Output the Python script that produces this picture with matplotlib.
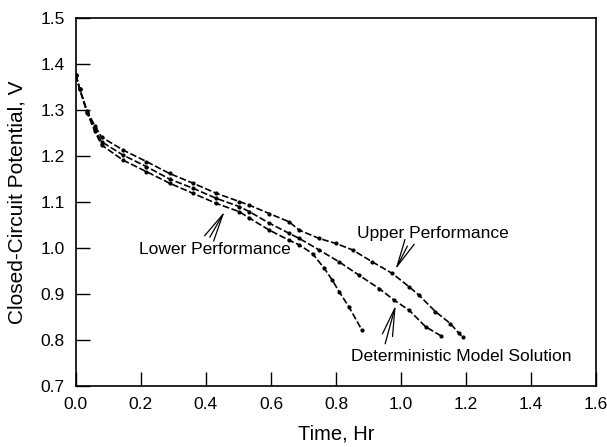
import matplotlib
matplotlib.use("Agg")
import matplotlib.pyplot as plt

plt.rcParams['font.family'] = ['Liberation Sans', 'DejaVu Sans']

# data (time in hr, potential in V)
time_upper = [0.0, 0.012, 0.035, 0.058, 0.079, 0.145, 0.217, 0.288, 0.360, 0.432, 0.503,
              0.534, 0.595, 0.656, 0.687, 0.748, 0.800, 0.851, 0.912, 0.973, 1.025,
              1.055, 1.106, 1.152, 1.178, 1.190]
volt_upper = [1.376, 1.345, 1.297, 1.266, 1.241, 1.213, 1.188, 1.162, 1.141, 1.119, 1.101,
              1.093, 1.075, 1.057, 1.039, 1.021, 1.010, 0.996, 0.970, 0.945, 0.916,
              0.898, 0.862, 0.836, 0.815, 0.806]

time_model = [0.0, 0.012, 0.035, 0.058, 0.079, 0.145, 0.217, 0.288, 0.360, 0.432, 0.503,
              0.534, 0.595, 0.656, 0.687, 0.748, 0.810, 0.871, 0.933, 0.979, 1.025,
              1.076, 1.124]
volt_model = [1.376, 1.345, 1.295, 1.260, 1.231, 1.202, 1.177, 1.150, 1.130, 1.108, 1.090,
              1.079, 1.054, 1.032, 1.021, 0.996, 0.970, 0.941, 0.912, 0.887, 0.865,
              0.829, 0.809]

time_lower = [0.0, 0.012, 0.035, 0.058, 0.079, 0.145, 0.217, 0.288, 0.360, 0.432, 0.503,
              0.534, 0.595, 0.656, 0.687, 0.728, 0.764, 0.789, 0.810, 0.840, 0.879]
volt_lower = [1.376, 1.345, 1.293, 1.254, 1.224, 1.191, 1.166, 1.141, 1.119, 1.097, 1.079,
              1.065, 1.039, 1.017, 1.007, 0.988, 0.956, 0.930, 0.905, 0.872, 0.823]

x_ticks = [0.0, 0.2, 0.4, 0.6, 0.8, 1.0, 1.2, 1.4, 1.6]
y_ticks = [0.7, 0.8, 0.9, 1.0, 1.1, 1.2, 1.3, 1.4, 1.5]

fig = plt.figure(figsize=(6.07, 4.47), dpi=100)
ax = fig.add_axes([0.125, 0.136, 0.857, 0.824])

# dashed curves with small dots at the data points
for t, v in [(time_upper, volt_upper), (time_model, volt_model), (time_lower, volt_lower)]:
    ax.plot(t, v, color='black', lw=1.2, linestyle=(0, (4, 1.5)),
            marker='o', markersize=2)

ax.set_xlim(0.0, 1.6)
ax.set_ylim(0.7, 1.5)
ax.set_xticks(x_ticks)
ax.set_yticks(y_ticks)
ax.set_xticklabels([f"{v:.1f}" for v in x_ticks])
ax.set_yticklabels([f"{v:.1f}" for v in y_ticks])
ax.tick_params(direction='in', length=10, width=1, labelsize=12.5, pad=8,
               top=False, right=False)
for s in ax.spines.values():
    s.set_linewidth(1.2)

ax.set_xlabel('Time, Hr', fontsize=14.5, labelpad=9)
ax.set_ylabel('Closed-Circuit Potential, V', fontsize=15, labelpad=10)

arrow = dict(arrowstyle='->, head_length=1.6, head_width=0.3', color='black', lw=0.9)
ax.annotate('Lower Performance', xy=(0.462, 1.085), xytext=(0.426, 0.996),
            ha='center', va='center', fontsize=12.5,
            arrowprops=dict(arrow, relpos=(0.45, 1.0)))
ax.annotate('Upper Performance', xy=(0.979, 0.948), xytext=(1.098, 1.032),
            ha='center', va='center', fontsize=12.5,
            arrowprops=dict(arrow, relpos=(0.35, 0.0)))
ax.annotate('Deterministic Model Solution', xy=(0.986, 0.882), xytext=(1.184, 0.764),
            ha='center', va='center', fontsize=12.5,
            arrowprops=dict(arrow, relpos=(0.15, 1.0)))

fig.savefig('out.png', dpi=100)
